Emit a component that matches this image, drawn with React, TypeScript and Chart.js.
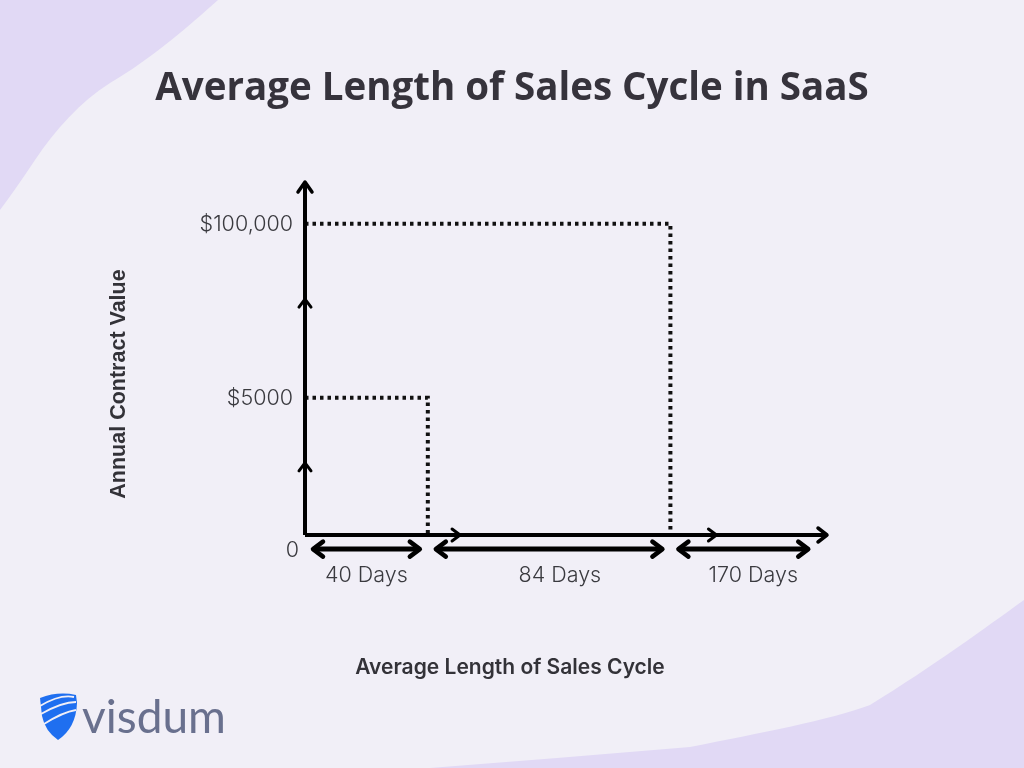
import React, { useEffect, useRef } from "react";
import { Chart, registerables } from "chart.js";

Chart.register(...registerables);

// ---- content ----
const titleText = "Average Length of Sales Cycle in SaaS";
const xTitle = "Average Length of Sales Cycle";
const yTitle = "Annual Contract Value";
const brandText = "visdum";

// periods along the (not-to-scale) time axis
const periodLabels = ["40 Days", "84 Days", "170 Days"];
const periodStarts = [0, 40, 119];
const periodEnds = [40, 119, 166.5];
const periodLabelAt = [20, 83, 146];

// contract tiers on the (not-to-scale) value axis
const contractLabels = ["$5000", "$100,000"];
const contractLevels = [39, 88.4];
const contractPeriodEnds = [40, 119];
const zeroLabel = "0";

// axis extents and direction marks (schematic units)
const xAxisMax = 170;
const yAxisMax = 100;
const xDirectionMarks = [50.5, 134];
const yDirectionMarks = [20.5, 67];
const spanRow = -4;

const INK = "#000000";

function chevron(ctx: CanvasRenderingContext2D, tx: number, ty: number, dx: number, dy: number, back: number, half: number, width: number) {
  const px = -dy, py = dx;
  ctx.save();
  ctx.strokeStyle = INK;
  ctx.lineWidth = width;
  ctx.lineCap = "round";
  ctx.lineJoin = "round";
  ctx.beginPath();
  ctx.moveTo(tx - dx * back + px * half, ty - dy * back + py * half);
  ctx.lineTo(tx, ty);
  ctx.lineTo(tx - dx * back - px * half, ty - dy * back - py * half);
  ctx.stroke();
  ctx.restore();
}

const backgroundPlugin = {
  id: "bgBlobs",
  beforeDraw(chart: any) {
    const ctx: CanvasRenderingContext2D = chart.ctx;
    const w = chart.width, h = chart.height;
    ctx.save();
    ctx.fillStyle = "#f1eff7";
    ctx.fillRect(0, 0, w, h);
    ctx.fillStyle = "#e1d9f5";
    ctx.beginPath();
    ctx.moveTo(0, 0);
    ctx.lineTo(218, 0);
    ctx.bezierCurveTo(190, 25, 150, 60, 110, 83);
    ctx.bezierCurveTo(80, 102, 55, 130, 35, 160);
    ctx.quadraticCurveTo(15, 190, 0, 210);
    ctx.closePath();
    ctx.fill();
    ctx.beginPath();
    ctx.moveTo(w, 600);
    ctx.bezierCurveTo(985, 628, 935, 665, 870, 705);
    ctx.bezierCurveTo(830, 720, 760, 733, 690, 747);
    ctx.quadraticCurveTo(560, 758, 430, h);
    ctx.lineTo(w, h);
    ctx.closePath();
    ctx.fill();
    ctx.restore();
  },
};

const decorPlugin = {
  id: "decor",
  afterDatasetsDraw(chart: any) {
    const ctx: CanvasRenderingContext2D = chart.ctx;
    const xs = chart.scales.x, ys = chart.scales.y;
    const x0 = xs.getPixelForValue(0);
    const y0 = ys.getPixelForValue(0);

    // axis arrow heads
    chevron(ctx, x0, ys.getPixelForValue(yAxisMax) - 1, 0, -1, 10, 7, 3.5);
    chevron(ctx, xs.getPixelForValue(xAxisMax), y0, 1, 0, 9, 7, 3.5);
    yDirectionMarks.forEach((v) => chevron(ctx, x0, ys.getPixelForValue(v), 0, -1, 8, 6, 3));
    xDirectionMarks.forEach((v) => chevron(ctx, xs.getPixelForValue(v), y0, 1, 0, 8, 6, 3));

    // period span arrows
    const rowY = ys.getPixelForValue(spanRow);
    periodLabels.forEach((_, i) => {
      const a = xs.getPixelForValue(periodStarts[i]) + 8;
      const b = xs.getPixelForValue(periodEnds[i]) - 8;
      ctx.save();
      ctx.strokeStyle = INK;
      ctx.lineWidth = 5;
      ctx.beginPath();
      ctx.moveTo(a + 2, rowY);
      ctx.lineTo(b - 2, rowY);
      ctx.stroke();
      ctx.restore();
      chevron(ctx, a, rowY, -1, 0, 10, 7.5, 4.5);
      chevron(ctx, b, rowY, 1, 0, 10, 7.5, 4.5);
    });
  },
  afterDraw(chart: any) {
    const ctx: CanvasRenderingContext2D = chart.ctx;
    const xs = chart.scales.x, ys = chart.scales.y;
    const x0 = xs.getPixelForValue(0);
    ctx.save();
    // title
    ctx.fillStyle = "#36333c";
    ctx.textAlign = "center";
    ctx.textBaseline = "middle";
    ctx.font = 'bold 38.5px "Open Sans"';
    ctx.fillText(titleText, 512, 89);

    // value labels
    ctx.fillStyle = "#3a3a3f";
    ctx.font = '300 21.5px Inter';
    ctx.textAlign = "right";
    contractLabels.forEach((t, i) => ctx.fillText(t, x0 - 12, ys.getPixelForValue(contractLevels[i]) + 1));
    ctx.fillText(zeroLabel, x0 - 6, ys.getPixelForValue(spanRow) + 1);

    // period labels
    ctx.textAlign = "center";
    periodLabels.forEach((t, i) => {
      ctx.fillText(t, xs.getPixelForValue(periodLabelAt[i]), ys.getPixelForValue(spanRow) + 26);
    });

    // axis titles
    ctx.fillStyle = "#333238";
    ctx.font = '600 21px Inter';
    ctx.fillText(xTitle, 510, 668);
    ctx.save();
    ctx.translate(119, 384);
    ctx.rotate(-Math.PI / 2);
    ctx.font = 'bold 21.5px "Liberation Sans"';
    ctx.fillText(yTitle, 0, 0);
    ctx.restore();

    // brand mark
    ctx.fillStyle = "#1f6ff0";
    ctx.beginPath();
    ctx.moveTo(40, 698);
    ctx.quadraticCurveTo(58, 691, 76, 695);
    ctx.lineTo(77, 703);
    ctx.quadraticCurveTo(76, 728, 58, 740);
    ctx.quadraticCurveTo(45, 731, 42, 716);
    ctx.closePath();
    ctx.fill();
    ctx.strokeStyle = "#f1eff7";
    ctx.lineWidth = 1.8;
    [[40, 706, 60, 694, 74, 697], [41, 714, 62, 702, 76, 702], [44, 724, 63, 712, 76, 710]].forEach((p) => {
      ctx.beginPath();
      ctx.moveTo(p[0], p[1]);
      ctx.quadraticCurveTo(p[2], p[3], p[4], p[5]);
      ctx.stroke();
    });
    ctx.fillStyle = "#69708e";
    ctx.font = '46px Lato';
    ctx.textAlign = "left";
    ctx.textBaseline = "alphabetic";
    ctx.fillText(brandText, 82, 733);
    ctx.restore();
  },
};

export default function App() {
  const ref = useRef<HTMLCanvasElement>(null);
  useEffect(() => {
    const canvas = ref.current!;
    const solid = { borderColor: INK, borderWidth: 4, pointRadius: 0, fill: false, clip: false as any, tension: 0 };
    const dotted = { borderColor: "#111111", borderWidth: 4, borderDash: [3.5, 4], pointRadius: 0, fill: false, clip: false as any, tension: 0 };
    const datasets: any[] = [
      { ...solid, data: [{ x: 0, y: 0 }, { x: xAxisMax, y: 0 }] },
      { ...solid, data: [{ x: 0, y: 0 }, { x: 0, y: yAxisMax }] },
      ...contractLevels.map((lvl, i) => ({
        ...dotted,
        data: [{ x: 0, y: lvl }, { x: contractPeriodEnds[i], y: lvl }, { x: contractPeriodEnds[i], y: 0 }],
      })),
    ];
    const chart = new Chart(canvas, {
      type: "line",
      data: { datasets },
      options: {
        responsive: false,
        animation: false,
        devicePixelRatio: 1,
        events: [],
        layout: { padding: { left: 305, right: 197, top: 183, bottom: 233 } },
        scales: {
          x: { type: "linear", min: 0, max: xAxisMax, display: false },
          y: { type: "linear", min: 0, max: yAxisMax, display: false },
        },
        plugins: { legend: { display: false }, tooltip: { enabled: false } },
      },
      plugins: [backgroundPlugin, decorPlugin],
    } as any);
    return () => chart.destroy();
  }, []);
  return (
    <div style={{ position: "absolute", left: 0, top: 0, width: 1024, height: 768 }}>
      <canvas ref={ref} width={1024} height={768} style={{ display: "block" }} />
    </div>
  );
}
